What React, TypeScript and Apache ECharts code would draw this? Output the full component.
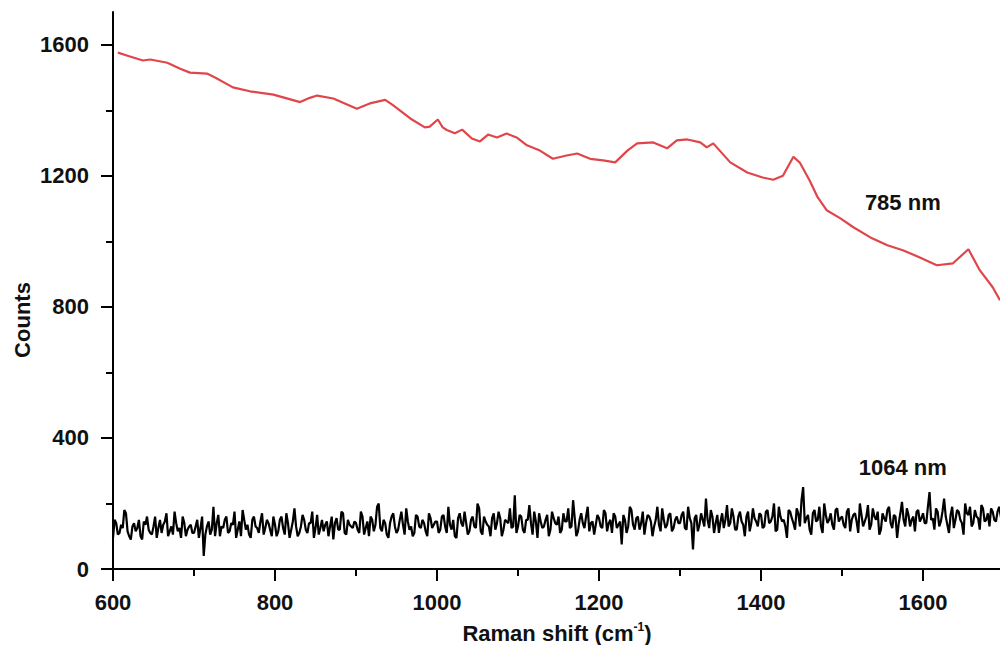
import React, { useEffect, useRef } from "react";
import * as echarts from "echarts";

// Raman shift sampling for the 1064 nm trace (cm-1): samples every 2 cm-1 from 600,
// stored as even samples (600, 604, ...) and odd samples (602, 606, ...)
const noiseStart = 600;
const noiseStep = 4;
// 1064 nm counts at 600, 604, 608, ... (noisy trace)
const counts1064Even: number[] = [
  95,140,110,125,170,100,130,115,150,90,135,120,105,160,125,110,145,100,130,175,115,95,140,120,135,
  110,150,125,40,130,105,190,140,100,125,160,115,135,95,145,180,120,105,150,130,110,170,125,140,100,
  135,115,160,105,140,120,185,100,130,150,110,140,95,165,125,115,145,130,90,155,120,170,105,135,125,
  140,110,160,125,100,150,135,200,115,140,95,160,130,120,175,105,145,130,110,160,125,140,100,155,135,
  145,120,165,110,135,150,95,170,130,140,115,160,125,185,105,145,130,155,120,175,100,150,140,125,225,
  130,160,110,150,140,175,95,145,130,165,120,155,135,110,170,145,125,210,100,150,140,160,115,145,135,
  155,125,170,140,110,160,135,75,150,130,180,120,160,140,105,165,145,130,190,115,150,135,170,125,160,
  140,175,120,155,60,165,135,150,215,125,160,140,110,170,150,130,185,120,160,145,100,175,140,155,130,
  165,130,180,145,200,120,160,150,95,175,140,185,130,250,155,120,170,145,190,110,165,150,135,180,145,
  160,125,185,150,170,110,165,145,195,135,160,175,120,155,180,140,165,95,170,150,185,130,160,175,145,
  170,140,235,155,185,130,175,160,110,190,150,175,140,200,165,130,180,155,195,145,170,185,150,175,160,
];
// 1064 nm counts at 602, 606, 610, ...
const counts1064Odd: number[] = [
  150,105,135,180,115,90,140,125,100,145,160,110,130,95,150,135,170,115,105,140,125,160,100,130,110,
  130,95,160,105,145,120,100,165,130,150,110,140,175,120,100,150,135,95,160,125,145,105,150,120,160,
  100,150,125,170,95,145,130,110,165,120,140,175,125,105,150,135,100,160,140,120,175,110,150,130,145,
  120,175,105,145,160,115,190,125,150,105,140,170,110,150,135,185,120,100,165,130,150,115,170,125,145,
  110,160,130,190,120,100,155,140,175,105,150,130,200,115,160,135,100,170,140,155,120,145,185,130,110,
  165,120,150,195,105,145,170,125,150,100,175,140,160,120,145,185,130,155,115,170,125,190,140,105,165,
  130,180,115,150,170,125,145,165,110,190,135,155,120,175,140,160,100,150,135,185,125,165,115,150,140,
  165,125,190,140,155,115,170,130,150,180,110,165,145,125,195,140,160,120,175,135,160,115,185,145,170,
  125,175,140,160,115,190,145,130,180,155,120,170,210,140,165,105,180,150,130,200,140,170,120,185,155,
  135,175,115,165,145,200,130,160,120,185,150,105,170,145,190,125,160,140,205,130,165,150,115,180,155,
  140,190,150,120,175,145,215,135,165,125,180,150,105,170,190,140,160,120,185,150,130,175,145,190,135,
];

// 785 nm trace: Raman shift and counts
const shift785: number[] = [
  606,620,637,646,667,683,695,716,726,748,769,798,831,843,852,872,901,917,936,946,967,985,991,1001,1007,
  1012,1022,1031,1043,1053,1063,1074,1086,1099,1111,1127,1143,1160,1173,1189,1205,1220,1235,1247,1267,
  1284,1296,1309,1325,1333,1341,1362,1383,1402,1415,1427,1440,1448,1460,1470,1481,1498,1514,1535,1556,
  1575,1596,1617,1637,1656,1670,1686,1695,
];
const counts785: number[] = [
  1576,1565,1552,1555,1545,1527,1515,1512,1500,1470,1458,1448,1425,1438,1445,1436,1405,1421,1432,1415,1375,1348,1350,1372,1348,
  1340,1330,1341,1314,1305,1326,1317,1329,1316,1293,1277,1252,1262,1268,1252,1247,1241,1277,1299,1302,
  1284,1308,1311,1302,1287,1299,1241,1210,1195,1188,1200,1258,1240,1186,1134,1095,1070,1043,1012,988,
  973,951,927,933,976,912,860,820,
];

const xMajorTicks = [600, 800, 1000, 1200, 1400, 1600];
const xMinorTicks = [700, 900, 1100, 1300, 1500];
const yMajorTicks = [0, 400, 800, 1200, 1600];
const yMinorTicks = [200, 600, 1000, 1400];

const labels = [
  { text: "785 nm", value: [1575, 1120] },
  { text: "1064 nm", value: [1575, 310] },
];

const FONT = "'Liberation Sans', Arial, sans-serif";

export default function App() {
  const ref = useRef<HTMLDivElement>(null);
  useEffect(() => {
    if (!ref.current) return;
    const chart = echarts.init(ref.current, null, { renderer: "svg" });
    const data1064: number[][] = [];
    counts1064Even.forEach((v, i) => {
      data1064.push([noiseStart + i * noiseStep, v]);
      data1064.push([noiseStart + i * noiseStep + noiseStep / 2, counts1064Odd[i]]);
    });
    const data785 = shift785.map((x, i) => [x, counts785[i]]);
    const labelStyle = { color: "#111", fontFamily: FONT, fontWeight: "bold" as const, fontSize: 22 };
    const axisLineStyle = { color: "#000", width: 2 };
    const plain = (v: number) => String(v);
    chart.setOption({
      animation: false,
      backgroundColor: "#fff",
      grid: { left: 113, right: 0, top: 12, bottom: 76 },
      xAxis: [
        {
          type: "value", min: 600, max: 1695, position: "bottom",
          axisLine: { show: true, onZero: false, lineStyle: axisLineStyle },
          axisTick: { show: true, customValues: xMajorTicks, length: 12, lineStyle: { color: "#000", width: 2 } },
          axisLabel: { customValues: xMajorTicks, margin: 22, formatter: plain, ...labelStyle },
          splitLine: { show: false },
        },
        {
          type: "value", min: 600, max: 1695, position: "bottom",
          axisLine: { show: false },
          axisTick: { show: true, customValues: xMinorTicks, length: 7, lineStyle: { color: "#000", width: 2 } },
          axisLabel: { show: false },
          splitLine: { show: false },
        },
      ],
      yAxis: [
        {
          type: "value", min: 0, max: 1700, position: "left",
          axisLine: { show: true, onZero: false, lineStyle: axisLineStyle },
          axisTick: { show: true, customValues: yMajorTicks, length: 12, lineStyle: { color: "#000", width: 2 } },
          axisLabel: { customValues: yMajorTicks, margin: 24, formatter: plain, ...labelStyle },
          splitLine: { show: false },
        },
        {
          type: "value", min: 0, max: 1700, position: "left",
          axisLine: { show: false },
          axisTick: { show: true, customValues: yMinorTicks, length: 7, lineStyle: { color: "#000", width: 2 } },
          axisLabel: { show: false },
          splitLine: { show: false },
        },
      ],
      series: [
        {
          type: "line", name: "1064 nm", data: data1064, showSymbol: false, symbol: "none",
          lineStyle: { color: "#000", width: 2.2 }, xAxisIndex: 0, yAxisIndex: 0,
        },
        {
          type: "line", name: "785 nm", data: data785, showSymbol: false, symbol: "none",
          lineStyle: { color: "#e0454a", width: 2.2 }, xAxisIndex: 0, yAxisIndex: 0,
        },
        {
          type: "scatter", data: labels.map((l) => ({ value: l.value, name: l.text })),
          symbolSize: 0, silent: true, itemStyle: { opacity: 1 },
          label: { show: true, position: "inside", formatter: (p: any) => p.name, ...labelStyle },
        },
      ],
      graphic: [
        {
          type: "text", x: 22, y: 320, rotation: Math.PI / 2,
          style: { text: "Counts", font: `bold 22px ${FONT}`, align: "center", verticalAlign: "middle", fill: "#111" },
        },
        {
          type: "text", x: 557, y: 633,
          style: {
            text: "{a|Raman shift (cm}{b|-1}{a|)}",
            align: "center", verticalAlign: "middle", fill: "#111",
            rich: {
              a: { fontFamily: FONT, fontWeight: "bold", fontSize: 22, fill: "#111" },
              b: { fontFamily: FONT, fontWeight: "bold", fontSize: 12, fill: "#111", verticalAlign: "top", padding: [0, 0, 12, 0] },
            },
          },
        },
      ],
    });
    return () => chart.dispose();
  }, []);
  return <div ref={ref} style={{ position: "fixed", left: 0, top: 0, width: 1000, height: 645 }} />;
}
